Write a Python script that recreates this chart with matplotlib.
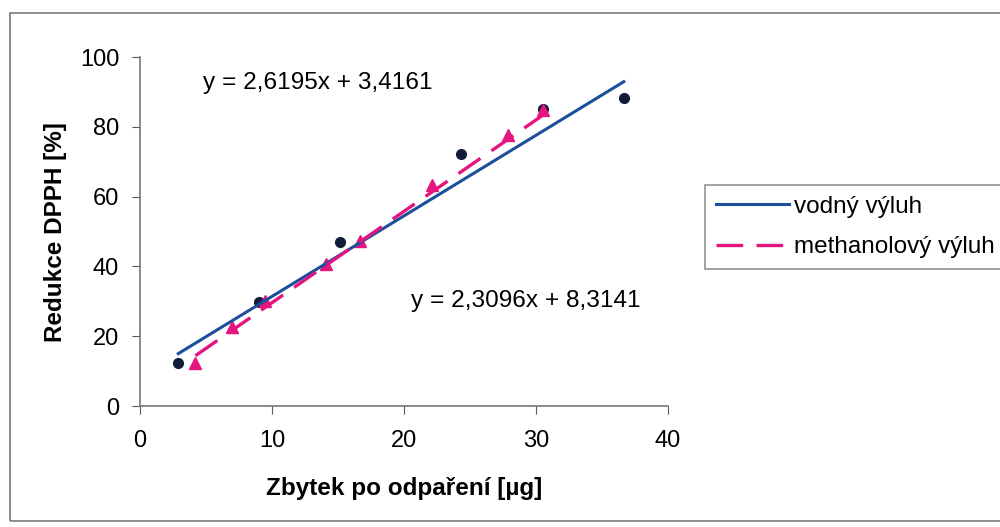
import numpy as np
import matplotlib.pyplot as plt
from matplotlib.patches import Rectangle

# vodny vyluh - measured points
xVodny = [2.9, 9.05, 15.15, 24.35, 30.55, 36.65]
yVodny = [12.2, 29.9, 47.1, 72.2, 85.0, 88.4]

# methanolovy vyluh - measured points
xMeth = [4.2, 6.95, 9.45, 14.1, 16.65, 22.15, 27.9, 30.55]
yMeth = [12.4, 22.6, 30.2, 40.6, 47.3, 63.4, 77.7, 84.8]

# trendline coefficients (from the equations shown in the chart)
slopeVodny, interVodny = 2.3096, 8.3141
slopeMeth, interMeth = 2.6195, 3.4161

blue = '#1B4F9C'
pink = '#E5157F'
navy = '#101C3A'

plt.rcParams['font.family'] = ['Liberation Sans', 'DejaVu Sans']

fig = plt.figure(figsize=(10, 5.27), dpi=100)
ax = fig.add_axes([0.140, 0.2296, 0.528, 0.662])

# outer chart border
fig.patches.append(Rectangle((0.010, 0.011), 1.0, 0.964, transform=fig.transFigure,
                             fill=False, edgecolor='#7a7a7a', linewidth=1.2))

# data points
ax.plot(xVodny, yVodny, 'o', color=navy, markersize=7, zorder=3)
ax.plot(xMeth, yMeth, '^', color=pink, markersize=8.5, zorder=3)

# trendlines
xv = np.array([min(xVodny), max(xVodny)])
xm = np.array([min(xMeth), max(xMeth)])
ax.plot(xv, slopeVodny*xv + interVodny, color=blue, linewidth=2.2, label='vodný výluh', zorder=4)
ax.plot(xm, slopeMeth*xm + interMeth, color=pink, linewidth=2.4, dashes=(8, 4),
        label='methanolový výluh', zorder=5)

# equations
ax.text(4.8, 92.5, 'y = 2,6195x + 3,4161', fontsize=17.6, va='center')
ax.text(20.5, 30.0, 'y = 2,3096x + 8,3141', fontsize=17.6, va='center')

ax.set_xlim(0, 40)
ax.set_ylim(0, 100)
ax.set_xticks([0, 10, 20, 30, 40])
ax.set_yticks([0, 20, 40, 60, 80, 100])
ax.tick_params(labelsize=17, length=6, color='#555555')
ax.tick_params(axis='x', pad=11)
ax.tick_params(axis='y', pad=9)
for s in ['top', 'right']:
    ax.spines[s].set_visible(False)
for s in ['left', 'bottom']:
    ax.spines[s].set_color('#777777')
    ax.spines[s].set_linewidth(1.2)

ax.set_xlabel('Zbytek po odpaření [µg]', fontsize=17.5, fontweight='bold', labelpad=18)
ax.set_ylabel('Redukce DPPH [%]', fontsize=17.5, fontweight='bold', labelpad=9)

leg = ax.legend(loc='upper left', bbox_to_anchor=(0.705, 1 - 185/527), bbox_transform=fig.transFigure,
                borderaxespad=0, fontsize=17.5, frameon=True, fancybox=False, handlelength=3.0,
                handletextpad=0.2, labelspacing=0.75, borderpad=0.45)
leg.get_frame().set_edgecolor('#777777')
leg.get_frame().set_linewidth(1.2)

plt.savefig('out.png', dpi=100)
